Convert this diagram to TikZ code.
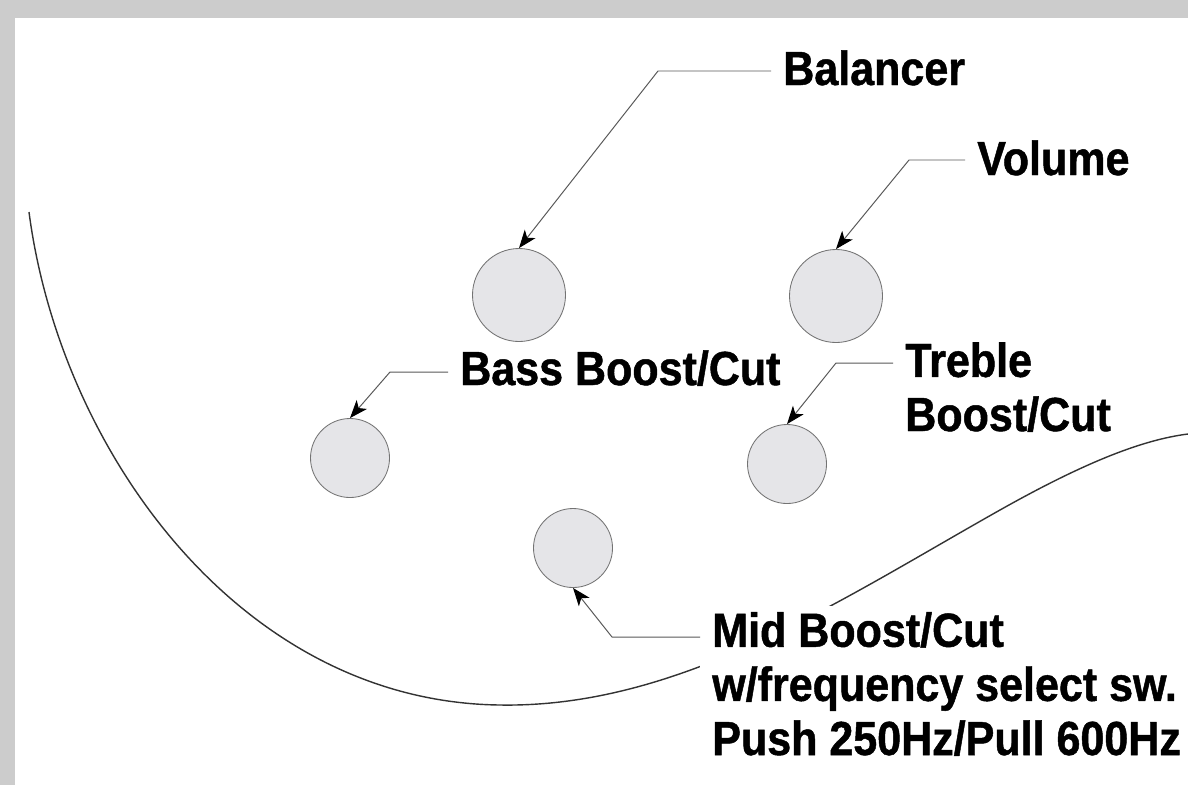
\documentclass[tikz,border=0pt]{standalone}
\usepackage{fontspec}
\usepackage{xcolor}
\newfontfamily\lblfont{Liberation Sans}[FakeStretch=0.9, FakeBold=1]
\usetikzlibrary{arrows.meta, positioning, calc}
\definecolor{knobgray}{HTML}{E5E5E8}
\definecolor{framegray}{HTML}{CCCCCC}

\begin{document}
\begin{tikzpicture}[x=0.25mm, y=-0.25mm]
    % Styles
    \tikzstyle{knob} = [circle, draw=black!55, line width=0.6pt, fill=knobgray, minimum size=19.75mm, inner sep=0pt]
    \tikzstyle{bigknob} = [knob, minimum size=23.25mm]
    \tikzstyle{callout} = [anchor=base west, fill=white, inner xsep=3mm, inner ysep=1.5mm, align=left, font=\lblfont\bfseries\fontsize{34}{38.5}\selectfont]
    \tikzstyle{leader} = [draw=black!65, line width=0.7pt, -{Stealth[length=4.5mm, width=3.4mm, inset=1.2mm, black]}]

    % Frame
    \fill[framegray] (0,0) rectangle (1188,785);
    \fill[white] (15,18) rectangle (1188,785);
    \useasboundingbox (0,0) rectangle (1188,785);

    % Body outline
    \draw[black!80, line width=1pt] (29,212) .. controls (60,450) and (240,702) .. (500,705)
        .. controls (680,708) and (840,600) .. (1000,510)
        .. controls (1080,465) and (1140,440) .. (1188,434);

    % Knobs
    \node [bigknob] (balancer) at (519,295) {};
    \node [bigknob] (volume) at (836,296) {};
    \node [knob] (bass) at (350,458) {};
    \node [knob] (treble) at (787,464) {};
    \node [knob] (mid) at (573,548) {};

    % Labels (base = last line)
    \node [callout] (balancerlbl) at (771,85) {Balancer};
    \node [callout] (volumelbl) at (965,175) {Volume};
    \node [callout] (basslbl) at (448,385) {Bass Boost/Cut};
    \node [callout] (treblelbl) at (893,431) {Treble\\Boost/Cut};
    \node [callout] (midlbl) at (700,755) {Mid Boost/Cut\\w/frequency select sw.\\Push 250Hz/Pull 600Hz};

    % Leaders
    \draw[leader] ($(balancerlbl.base west)+(0,-14)$) -- ++(-113,0) -- (balancer.north);
    \draw[leader] ($(volumelbl.base west)+(0,-15)$) -- ++(-56,0) -- (volume.north);
    \draw[leader] ($(basslbl.base west)+(0,-13)$) -- ++(-58,0) -- (bass.north);
    \draw[leader] ($(treblelbl.base west)+(0,-68)$) -- ++(-57,0) -- (treble.north);
    \draw[leader] ($(midlbl.base west)+(0,-118)$) -- ++(-88,0) -- (mid.south);

\end{tikzpicture}
\end{document}
